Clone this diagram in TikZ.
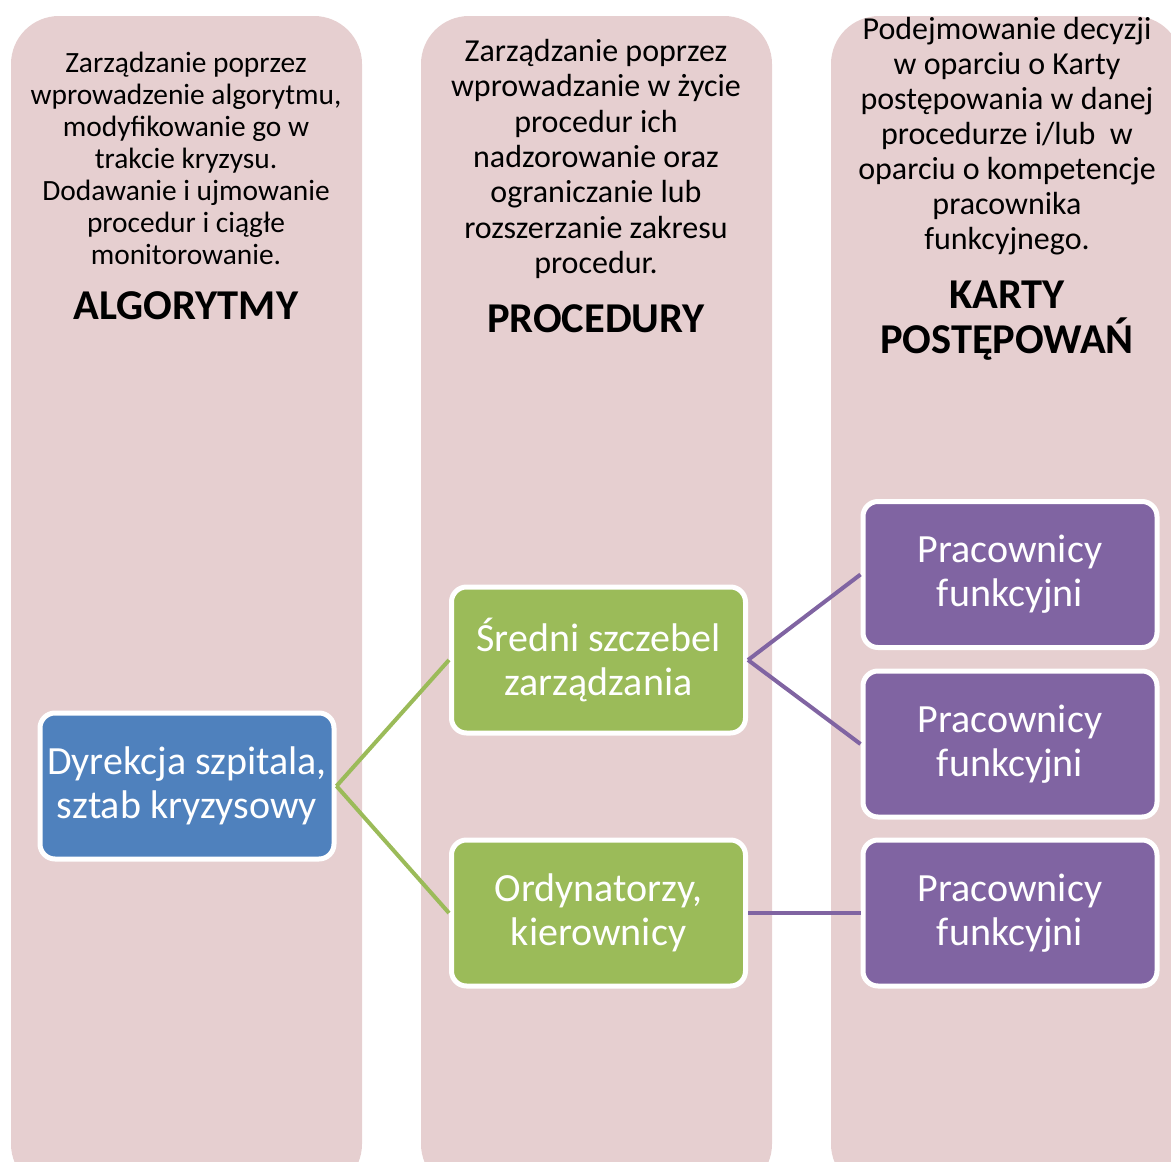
\documentclass[tikz,border=0pt]{standalone}
\usepackage{fontspec}
\setmainfont{Carlito}
\definecolor{colbg}{RGB}{230,207,208}
\definecolor{bluebox}{RGB}{79,129,189}
\definecolor{greenbox}{RGB}{155,187,89}
\definecolor{purplebox}{RGB}{128,100,162}
\begin{document}
\begin{tikzpicture}[x=1pt,y=-1pt,
  column/.style={fill=colbg, rounded corners=48pt},
  desc/.style={align=center, text=black, inner sep=0pt},
  headline/.style={align=center, text=black, inner sep=0pt, font=\fontsize{42.5}{45}\selectfont\bfseries},
  unit/.style={draw=white, line width=5pt, rounded corners=15pt, text=white, align=center,
    minimum width=294pt, minimum height=146pt, inner sep=0pt,
    font=\fontsize{40}{44}\selectfont},
  top/.style={unit, fill=bluebox},
  mid/.style={unit, fill=greenbox},
  staff/.style={unit, fill=purplebox},
  greenlink/.style={draw=greenbox, line width=4pt},
  purplelink/.style={draw=purplebox, line width=4pt}]
\useasboundingbox (0,0) rectangle (1171,1162);

% three background columns, running past the lower and right edges
\begin{scope}
  \clip (0,0) rectangle (1171,1162);
  \fill[column] (11,16) rectangle (362,1192);
  \fill[column] (421,16) rectangle (772,1192);
  \fill[column] (831,16) rectangle (1182,1192);
\end{scope}

% column descriptions
\node[desc, font=\fontsize{29.4}{32}\selectfont] (d1) at (186,158.5)
  {Zarządzanie poprzez\\wprowadzenie algorytmu,\\modyfikowanie go w\\trakcie kryzysu.\\Dodawanie i ujmowanie\\procedur i ciągłe\\monitorowanie.};
\node[desc, font=\fontsize{32}{35.3}\selectfont] (d2) at (596,159)
  {Zarządzanie poprzez\\wprowadzanie w życie\\procedur ich\\nadzorowanie oraz\\ograniczanie lub\\rozszerzanie zakresu\\procedur.};
\node[desc, font=\fontsize{32}{35}\selectfont] (d3) at (1007,136)
  {Podejmowanie decyzji\\w oparciu o Karty\\postępowania w danej\\procedurze i/lub\ \ w\\oparciu o kompetencje\\pracownika\\funkcyjnego.};

% column headings
\node[headline] (h1) at (186,306) {ALGORYTMY};
\node[headline] (h2) at (596,319) {PROCEDURY};
\node[headline] (h3) at (1007,321) {KARTY\\POSTĘPOWAŃ};

% hierarchy boxes
\node[top] (dyr) at (187,786) {Dyrekcja szpitala,\\sztab kryzysowy};
\node[mid] (sred) at (598.5,660) {Średni szczebel\\zarządzania};
\node[mid] (ord) at (598.5,913) {Ordynatorzy,\\kierownicy};
\node[staff] (p1) at (1010,574.5) {Pracownicy\\funkcyjni};
\node[staff] (p2) at (1010,744) {Pracownicy\\funkcyjni};
\node[staff] (p3) at (1010,913) {Pracownicy\\funkcyjni};

% connectors
\draw[greenlink] (dyr.east) -- (sred.west);
\draw[greenlink] (dyr.east) -- (ord.west);
\draw[purplelink] (sred.east) -- (p1.west);
\draw[purplelink] (sred.east) -- (p2.west);
\draw[purplelink] (ord.east) -- (p3.west);
\end{tikzpicture}
\end{document}
